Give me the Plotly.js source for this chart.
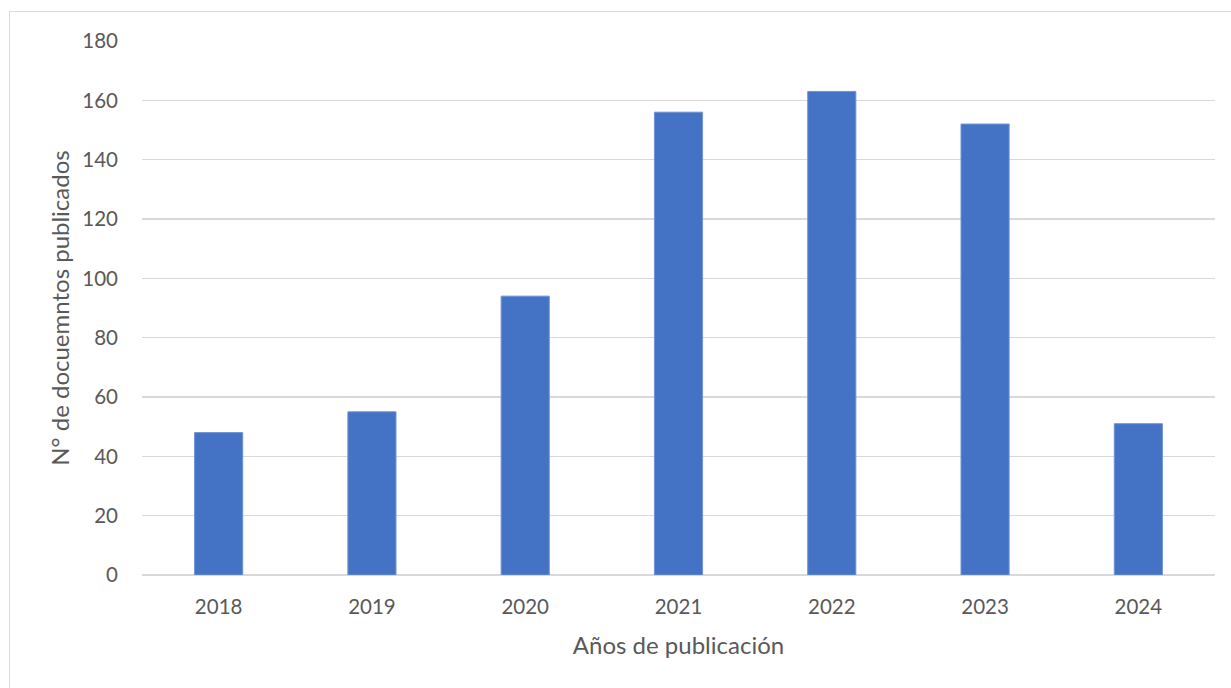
<!DOCTYPE html>
<html><head><meta charset="utf-8">
<script src="https://cdn.plot.ly/plotly-3.0.1.min.js"></script>
<style>
html,body{margin:0;padding:0;background:#fff;}
#chart{width:1231px;height:688px;position:absolute;left:0;top:0;}
#frame{position:absolute;left:9px;top:11px;width:1240px;height:700px;border:1.5px solid #d9d9d9;pointer-events:none;}
</style></head>
<body>
<div id="chart"></div>
<div id="frame"></div>
<script>
const years = ['2018','2019','2020','2021','2022','2023','2024'];
const documents = [48, 55, 94, 156, 163, 152, 51];
const yTicks = [0,20,40,60,80,100,120,140,160,180];

const font = "Lato, 'Open Sans', sans-serif";
Plotly.newPlot('chart', [{
  type:'bar', x: years, y: documents,
  marker:{color:'#4472C4', line:{color:'#6f93d6', width:1}},
  hoverinfo:'x+y'
}], {
  width:1231, height:688,
  margin:{l:142, r:16, t:41, b:113},
  paper_bgcolor:'rgba(0,0,0,0)', plot_bgcolor:'#fff',
  bargap:0.686,
  showlegend:false,
  font:{family:font, color:'#595959', size:20.5},
  xaxis:{type:'category', tickvals:years, ticktext:years, showgrid:false, zeroline:false, showline:false,
    ticks:'', ticklen:0, tickfont:{size:20.5, color:'#595959'}, ticklabelstandoff:17,
    title:{text:'Años de publicación', font:{size:24, color:'#595959'}, standoff:20}},
  yaxis:{range:[0,180], tickvals:yTicks, ticktext:yTicks.map(String), showgrid:true, gridcolor:'#d9d9d9', gridwidth:1.5,
    zeroline:true, zerolinecolor:'#d9d9d9', zerolinewidth:2, showline:false, ticks:'', tickfont:{size:20.5, color:'#595959'},
    ticklabelstandoff:23,
    title:{text:'N° de docuemntos publicados', font:{size:24, color:'#595959'}, standoff:5}}
}, {displayModeBar:false, staticPlot:true});
</script>
</body></html>
